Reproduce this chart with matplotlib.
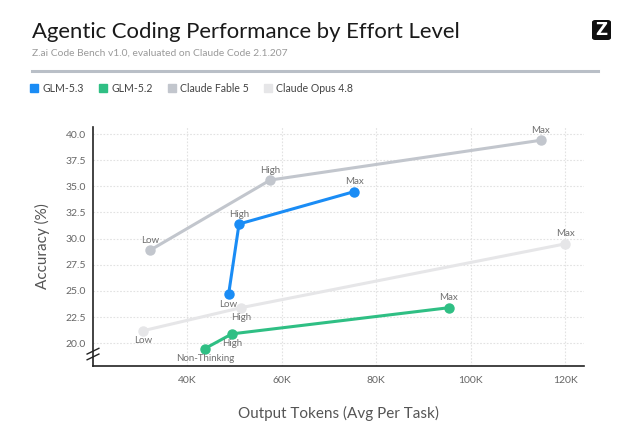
import matplotlib
matplotlib.use("Agg")
import matplotlib.pyplot as plt
from matplotlib.patches import FancyBboxPatch
from matplotlib.lines import Line2D
from matplotlib.ticker import FuncFormatter

plt.rcParams['font.family'] = ['Lato', 'DejaVu Sans']

# data (tokens in K, accuracy in %)
series_names = ['GLM-5.3', 'GLM-5.2', 'Claude Fable 5', 'Claude Opus 4.8']
series_colors = ['#1a8cf5', '#2fbf84', '#c2c6cd', '#e6e6e8']

glm53_tokens = [48.8, 51.0, 75.4]
glm53_acc = [24.7, 31.4, 34.5]
glm53_labels = ['Low', 'High', 'Max']

glm52_tokens = [43.8, 49.5, 95.4]
glm52_acc = [19.5, 20.9, 23.4]
glm52_labels = ['Non-Thinking', 'High', 'Max']

fable_tokens = [32.2, 57.6, 114.8]
fable_acc = [28.9, 35.6, 39.4]
fable_labels = ['Low', 'High', 'Max']

opus_tokens = [30.7, 51.4, 120.0]
opus_acc = [21.2, 23.4, 29.5]
opus_labels = ['Low', 'High', 'Max']

y_ticks = [20.0, 22.5, 25.0, 27.5, 30.0, 32.5, 35.0, 37.5, 40.0]
x_ticks = [40, 60, 80, 100, 120]

# label placement: +1 above the point, -1 below
glm53_side = [-1, 1, 1]
glm52_side = [-1, -1, 1]
fable_side = [1, 1, 1]
opus_side = [-1, -1, 1]

fig = plt.figure(figsize=(6.4, 4.28), dpi=100)
ax = fig.add_axes([93/640, 62/428, 491/640, 239/428])

series = [
    (fable_tokens, fable_acc, fable_labels, fable_side, series_colors[2]),
    (opus_tokens, opus_acc, opus_labels, opus_side, series_colors[3]),
    (glm52_tokens, glm52_acc, glm52_labels, glm52_side, series_colors[1]),
    (glm53_tokens, glm53_acc, glm53_labels, glm53_side, series_colors[0]),
]

for xs, ys, labels, sides, color in series:
    ax.plot(xs, ys, color=color, lw=2.2, marker='o', ms=6.5, zorder=3)
    for x, y, lab, s in zip(xs, ys, labels, sides):
        ax.annotate(lab, (x, y), xytext=(0, 7.2 * s), textcoords='offset points',
                    ha='center', va='center', fontsize=7, color='#707070', zorder=4)

ax.set_xlim(20.1, 124)
ax.set_ylim(17.83, 40.67)
ax.set_xticks(x_ticks)
ax.set_yticks(y_ticks)
ax.xaxis.set_major_formatter(FuncFormatter(lambda v, p: f'{int(v)}K'))
ax.yaxis.set_major_formatter(FuncFormatter(lambda v, p: f'{v:.1f}'))
ax.tick_params(axis='y', length=0, labelsize=7.5, labelcolor='#666666', pad=5)
ax.tick_params(axis='x', length=0, labelsize=7.5, labelcolor='#666666', pad=7)
ax.grid(True, color='#e2e2e2', linestyle=(0, (1.5, 1.5)), lw=0.8, zorder=0)
for side in ['top', 'right']:
    ax.spines[side].set_visible(False)
for side in ['left', 'bottom']:
    ax.spines[side].set_color('#222222')
    ax.spines[side].set_linewidth(1.2)

ax.set_ylabel('Accuracy (%)', fontsize=11, color='#555555', labelpad=11)
ax.set_xlabel('Output Tokens (Avg Per Task)', fontsize=11, color='#555555', labelpad=15)

# axis break mark on the y axis
for dy in (-0.012, 0.012):
    ax.plot([-0.012, 0.012], [0.05 + dy - 0.012, 0.05 + dy + 0.012], transform=ax.transAxes,
            color='#222222', lw=1.0, clip_on=False, zorder=5)

# header
fig.text(32/640, 1 - 32/428, 'Agentic Coding Performance by Effort Level',
         fontsize=15.9, color='#1a1a1a', va='center', ha='left')
fig.text(32/640, 1 - 53/428, 'Z.ai Code Bench v1.0, evaluated on Claude Code 2.1.207',
         fontsize=7.4, color='#9a9a9a', va='center', ha='left')
fig.add_artist(Line2D([32/640, 598/640], [1 - 71/428, 1 - 71/428], color='#b9bfc7', lw=2.2))

logo = FancyBboxPatch((592/640, 1 - 40/428), 19/640, 20/428,
                      boxstyle='round,pad=0,rounding_size=0.005',
                      transform=fig.transFigure, fc='#111111', ec='none')
fig.add_artist(logo)
fig.text(601.5/640, 1 - 30/428, 'Z', fontsize=12, fontweight='bold', color='white',
         ha='center', va='center', family='DejaVu Sans')

handles = [Line2D([], [], ls='none', marker='s', ms=5.5, color=c) for c in series_colors]
fig.legend(handles, series_names, loc='center left', bbox_to_anchor=(30/640, 1 - 88/428),
           ncol=4, frameon=False, fontsize=7.6, labelcolor='#444444', handlelength=0.8,
           handletextpad=0.4, columnspacing=1.4, borderpad=0, borderaxespad=0)

fig.savefig('out.png', dpi=100, facecolor='white')
